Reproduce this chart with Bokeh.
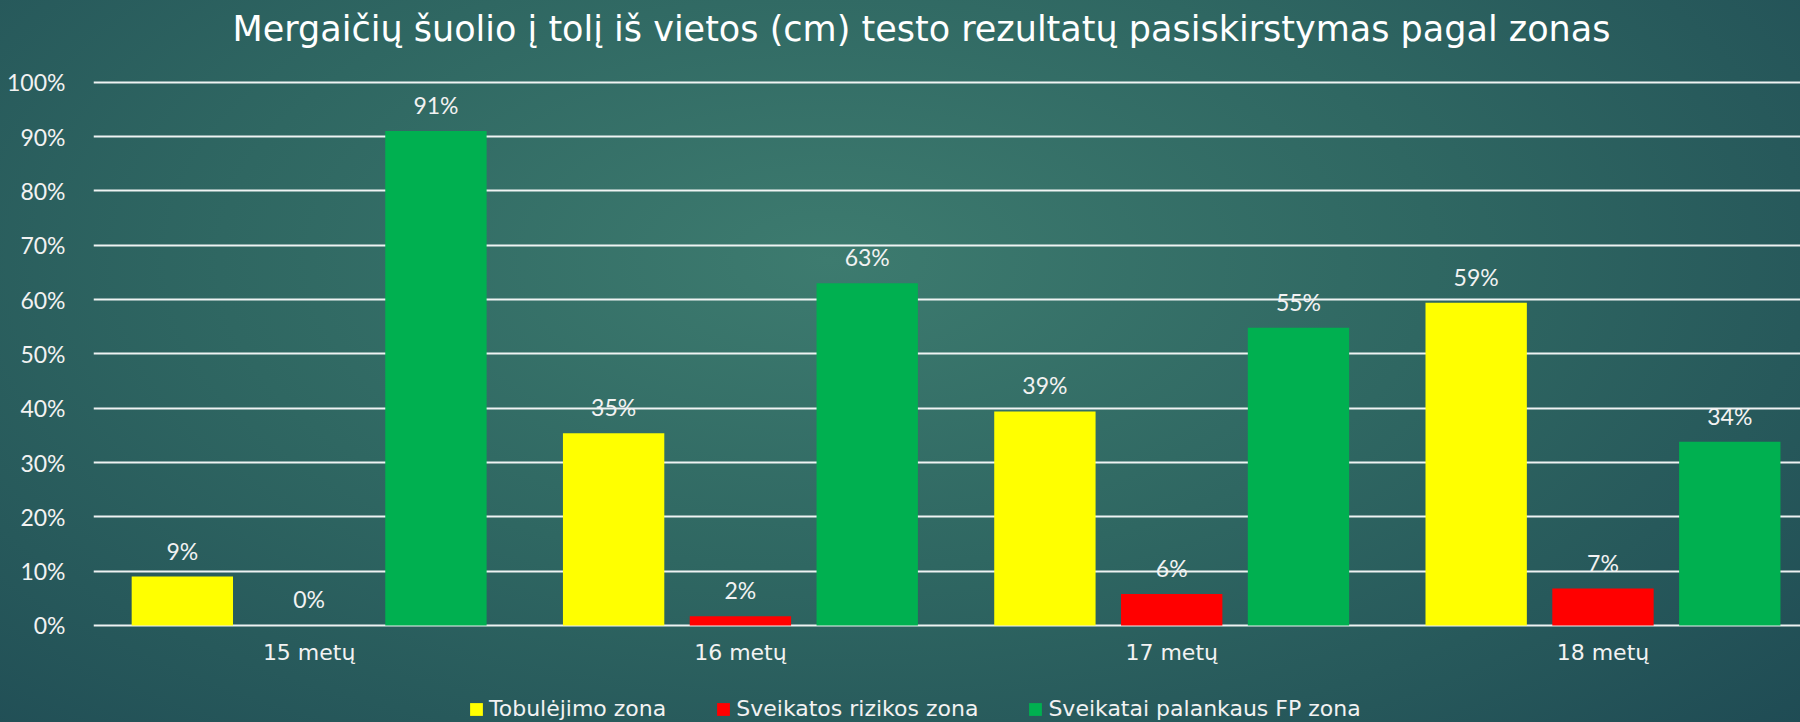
from bokeh.plotting import figure
from bokeh.layouts import column
from bokeh.models import Range1d, FixedTicker, NumeralTickFormatter, Legend, LegendItem, ColumnDataSource, Label
from bokeh.transform import dodge
from bokeh.embed import file_html
from bokeh.resources import INLINE
from bokeh.core.properties import value

title_text = "Mergaičių šuolio į tolį iš vietos (cm) testo rezultatų pasiskirstymas pagal zonas"
categories = ["15 metų", "16 metų", "17 metų", "18 metų"]
series_names = ["Tobulėjimo zona", "Sveikatos rizikos zona", "Sveikatai palankaus FP zona"]
tobulejimo = [0.09, 0.354, 0.394, 0.594]
rizikos = [0.0, 0.017, 0.058, 0.068]
palankaus = [0.91, 0.63, 0.548, 0.338]
series_colors = ["#FFFF00", "#FF0000", "#00B050"]
y_ticks = [0.0, 0.1, 0.2, 0.3, 0.4, 0.5, 0.6, 0.7, 0.8, 0.9, 1.0]

WFONT = "DejaVu Sans"
NFONT = "Lato"
TXT = "#f2f2f2"

idx = list(range(len(categories)))
src = ColumnDataSource(dict(
    x=idx, cat=categories,
    s0=tobulejimo, s1=rizikos, s2=palankaus,
    l0=[f"{round(v*100)}%" for v in tobulejimo],
    l1=[f"{round(v*100)}%" for v in rizikos],
    l2=[f"{round(v*100)}%" for v in palankaus],
))

# main chart (the frame reaches the top edge so the title fits inside it)
p = figure(frame_width=1707, frame_height=627,
           x_range=Range1d(-0.5, 3.458), y_range=Range1d(-0.0037, 1.1504),
           output_backend="svg", toolbar_location=None,
           min_border_left=93, min_border_right=0, min_border_top=0, min_border_bottom=63)
p.background_fill_alpha = 0
p.border_fill_alpha = 0
p.outline_line_color = None

title = Label(x=828, y=599, x_units="screen", y_units="screen", text=title_text,
              text_align="center", text_baseline="alphabetic",
              text_font=WFONT, text_font_size="35px", text_color="#ffffff")
p.add_layout(title)

offsets = [-0.294, 0.0, 0.294]
fields = ["s0", "s1", "s2"]
lfields = ["l0", "l1", "l2"]
for off, f, lf, col in zip(offsets, fields, lfields, series_colors):
    p.vbar(x=dodge("x", off, range=p.x_range), top=f, bottom=0, width=0.235,
           source=src, fill_color=col, line_color=None)
    p.text(x=dodge("x", off, range=p.x_range), y=f, text=lf, source=src,
           text_align="center", text_baseline="alphabetic", y_offset=-26,
           text_font=value(NFONT), text_font_size="23px", text_color=TXT)

p.xgrid.grid_line_color = None
p.ygrid.ticker = FixedTicker(ticks=y_ticks)
p.ygrid.grid_line_color = "#ffffff"
p.ygrid.grid_line_width = 2
p.ygrid.grid_line_alpha = 0.92

p.yaxis.ticker = FixedTicker(ticks=y_ticks)
p.yaxis.formatter = NumeralTickFormatter(format="0%")
p.xaxis.ticker = FixedTicker(ticks=idx)
p.xaxis.major_label_overrides = {i: c for i, c in zip(idx, categories)}
for ax in (p.xaxis, p.yaxis):
    ax.axis_line_color = None
    ax.major_tick_line_color = None
    ax.minor_tick_line_color = None
    ax.major_label_text_color = TXT
p.yaxis.major_label_text_font = NFONT
p.yaxis.major_label_text_font_size = "23px"
p.xaxis.major_label_text_font = WFONT
p.xaxis.major_label_text_font_size = "22px"
p.yaxis.major_label_standoff = 22
p.xaxis.major_label_standoff = 6

# legend strip (bottom of the page); its renderers share the data but lie outside its view
pl = figure(width=1800, height=32, output_backend="svg", toolbar_location=None,
            x_range=Range1d(-0.5, 3.458), y_range=Range1d(2, 3),
            x_axis_location=None, y_axis_location=None,
            min_border_left=0, min_border_right=0, min_border_top=0, min_border_bottom=0)
pl.background_fill_alpha = 0
pl.border_fill_alpha = 0
pl.outline_line_color = None
pl.grid.visible = False
items = []
for off, f, col, name in zip(offsets, fields, series_colors, series_names):
    r = pl.vbar(x=dodge("x", off, range=pl.x_range), top=f, bottom=0, width=0.235,
                source=src, fill_color=col, line_color=None)
    items.append(LegendItem(label=name, renderers=[r]))
legend = Legend(items=items, orientation="horizontal", location=(375, 1),
                glyph_width=16, glyph_height=16, label_standoff=5, spacing=49,
                padding=0, margin=0, border_line_alpha=0, background_fill_alpha=0,
                label_text_font=WFONT, label_text_font_size="22px", label_text_color=TXT)
pl.add_layout(legend)

page = column(p, pl, spacing=0)
page.styles = {"background-image": "radial-gradient(ellipse 75% 95% at 46% 36%, #3d7b6f 0%, #2f6762 45%, #1f4b54 100%)"}

open("out.html", "w").write(file_html(page, INLINE))
